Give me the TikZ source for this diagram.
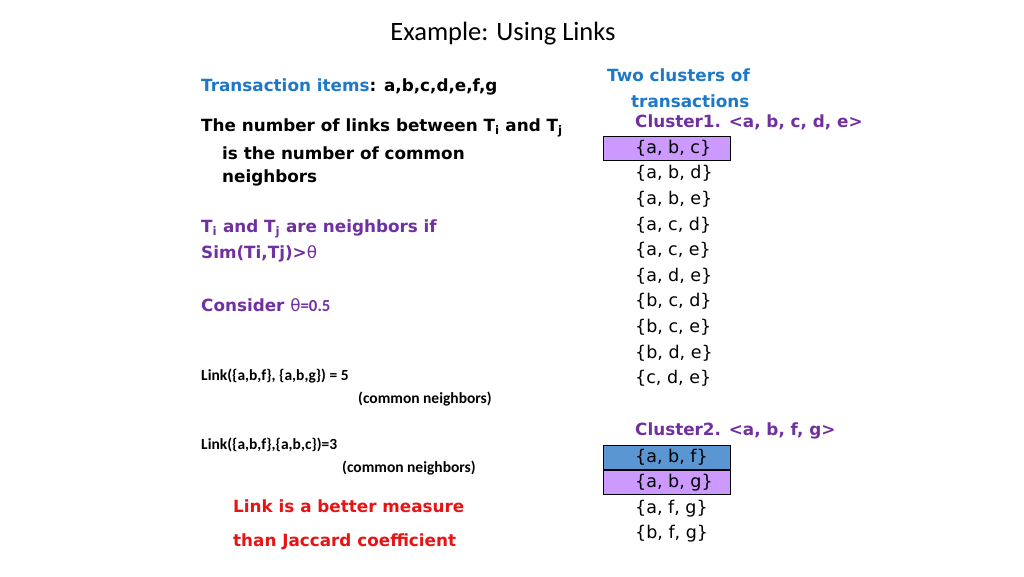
\documentclass[tikz,border=0pt]{standalone}
\usepackage{amsmath}
\usepackage{fontspec}
\setmainfont{DejaVu Sans}
\newfontfamily\carlito{Carlito}
\usetikzlibrary{positioning}
\definecolor{tblue}{RGB}{30,120,200}
\definecolor{tpurple}{RGB}{112,48,160}
\definecolor{tred}{RGB}{230,20,20}
\definecolor{lav}{RGB}{204,153,255}
\definecolor{sblue}{RGB}{90,150,210}
\tikzset{
  txt/.style={anchor=west,inner sep=0pt,font=\fontsize{16.8}{18}\selectfont\bfseries},
  lnk/.style={anchor=west,inner sep=0pt,font=\carlito\fontsize{15.5}{17}\selectfont\bfseries},
  item/.style={anchor=west,inner sep=0pt,font=\fontsize{17.5}{18}\selectfont},
  hilite/.style={draw=black,line width=0.6pt},
}
\begin{document}
\begin{tikzpicture}[x=1pt,y=-1pt]
\useasboundingbox (0,0) rectangle (1024,576);
\node[font=\carlito\fontsize{26.5}{28}\selectfont] (title) at (503,34) {Example: Using Links};

% left column
\node[txt] (items) at (201,87) {\textcolor{tblue}{Transaction items}: a,b,c,d,e,f,g};
\node[txt] (links1) at (201,128) {The number of links between T$_\mathbf{i}$ and T$_\mathbf{j}$};
\node[txt] (links2) at (222,153) {is the number of common};
\node[txt] (links3) at (222,178) {neighbors};
\node[txt,tpurple] (nb1) at (201,229) {T$_\mathbf{i}$ and T$_\mathbf{j}$ are neighbors if};
\node[txt,tpurple] (nb2) at (201,254) {Sim(Ti,Tj)>{\mdseries θ}};
\node[txt,tpurple] (cons) at (201,305) {Consider {\mdseries θ}{\carlito=0.5}};
\node[lnk] (linkA) at (201,376) {Link(\{a,b,f\}, \{a,b,g\}) = 5};
\node[lnk] (cnA) at (358,399) {(common neighbors)};
\node[lnk] (linkB) at (201,445) {Link(\{a,b,f\},\{a,b,c\})=3};
\node[lnk] (cnB) at (342,468) {(common neighbors)};
\node[txt,tred] (better1) at (233,506) {Link is a better measure};
\node[txt,tred] (better2) at (233,542) {than Jaccard coefficient};

% right column
\node[txt,tblue] (two1) at (607,75) {Two clusters of};
\node[txt,tblue] (two2) at (631,101) {transactions};
\filldraw[hilite,fill=lav] (603,136) rectangle (730,160);
\node[txt,tpurple] (cl1) at (635,122) {Cluster1. <a, b, c, d, e>};
\foreach \t [count=\i from 0] in {{a, b, c},{a, b, d},{a, b, e},{a, c, d},{a, c, e},{a, d, e},{b, c, d},{b, c, e},{b, d, e},{c, d, e}}
  \node[item] (c1\i) at (635,148+25.6*\i) {\{\t\}};
\filldraw[hilite,fill=sblue] (603,445) rectangle (730,469);
\filldraw[hilite,fill=lav] (603,470) rectangle (730,494);
\node[txt,tpurple] (cl2) at (635,431) {Cluster2. <a, b, f, g>};
\foreach \t [count=\i from 0] in {{a, b, f},{a, b, g},{a, f, g},{b, f, g}}
  \node[item] (c2\i) at (635,457+25.6*\i) {\{\t\}};
\end{tikzpicture}
\end{document}
